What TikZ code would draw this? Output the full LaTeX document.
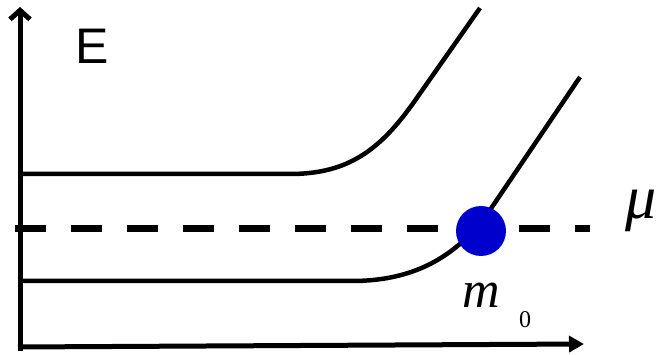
\documentclass[tikz,border=0pt]{standalone}
\usepackage{fontspec}
\setmainfont{Liberation Serif}
\newfontfamily\arialfont{Liberation Sans}
\usetikzlibrary{arrows.meta}
\definecolor{dotblue}{RGB}{0,0,204}
\tikzset{
  yaxis/.style={line width=5pt, -{Straight Barb[length=9pt,width=20pt,line width=5pt]}},
  xaxis/.style={line width=5pt, -{Triangle[length=15pt,width=16pt]}},
  band/.style={line width=4.5pt, line cap=butt},
  chem/.style={line width=7pt, dash pattern=on 31pt off 25pt},
  lbl/.style={inner sep=0pt, anchor=base}
}
\begin{document}
\begin{tikzpicture}[x=1pt,y=-1pt]
\useasboundingbox (0,0) rectangle (662,355);
% axes
\coordinate (ybot) at (20,351);
\coordinate (ytop) at (20,7);
\coordinate (xbeg) at (18,347);
\coordinate (xend) at (584,344);
\draw[yaxis] (ybot) -- (ytop);
\draw[xaxis] (xbeg) -- (xend);
% upper band
\draw[band] (22,174) -- (290,174) .. controls (348,174) and (380,150) .. (414,102) -- (480,8);
% lower band
\draw[band] (22,281) -- (352,281) .. controls (410,281) and (455,260) .. (490,210) -- (580,77);
% chemical potential
\draw[chem] (15,229) -- (590,229);
% dot
\node[circle, fill=dotblue, minimum size=50pt, inner sep=0pt] (dot) at (481,231) {};
% labels
\node[lbl] (E) at (92,64) {\fontsize{50}{50}\arialfont E};
\node[lbl] (mu) at (641,219) {\fontsize{62}{62}\selectfont\itshape μ};
\node[lbl] (m) at (481,308) {\fontsize{52}{52}\selectfont\itshape m};
\node[lbl] (zero) at (525,328) {\fontsize{24}{24}\selectfont 0};
\end{tikzpicture}
\end{document}
